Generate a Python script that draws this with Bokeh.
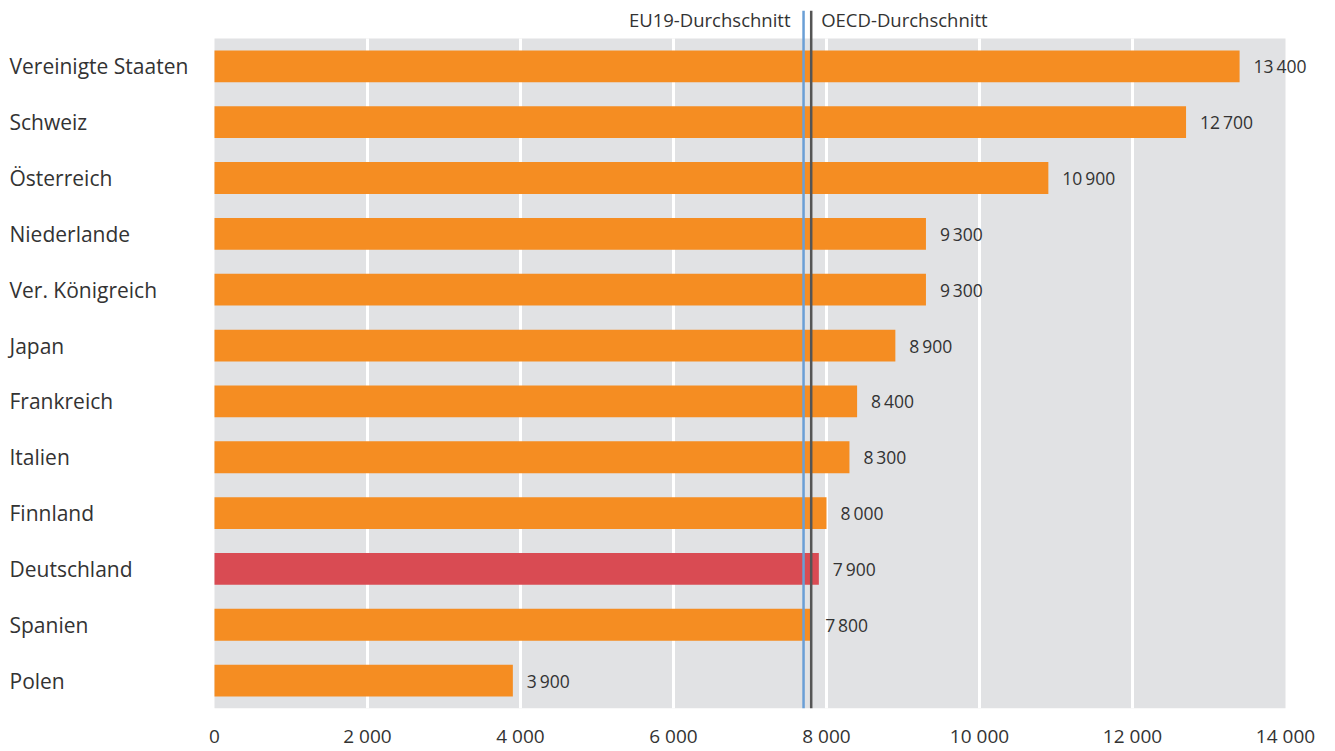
from bokeh.plotting import figure
from bokeh.models import Range1d, FixedTicker, ColumnDataSource
from bokeh.core.properties import value
from bokeh.embed import file_html
from bokeh.resources import INLINE

countries = ["Vereinigte Staaten", "Schweiz", "Österreich", "Niederlande", "Ver. Königreich",
             "Japan", "Frankreich", "Italien", "Finnland", "Deutschland", "Spanien", "Polen"]
values = [13400, 12700, 10900, 9300, 9300, 8900, 8400, 8300, 8000, 7900, 7800, 3900]
highlight = "Deutschland"
eu19_avg = 7700
oecd_avg = 7800
ticks = [0, 2000, 4000, 6000, 8000, 10000, 12000, 14000]
tick_labels = ["0", "2 000", "4 000", "6 000", "8 000", "10 000", "12 000", "14 000"]

FONT = "Open Sans"
ORANGE = "#F58D22"
RED = "#D94B53"
GRAY_BG = "#E1E2E4"
TEXT = "#333333"

W, H = 1330, 751
LEFT, PANEL_RIGHT = 214, 1285
TOP = 10

n = len(countries)
ypos = [n - 1 - i for i in range(n)]
colors = [RED if c == highlight else ORANGE for c in countries]
val_text = ["{:,}".format(v).replace(",", "\u2009") for v in values]

src = ColumnDataSource(dict(y=ypos, v=values, c=colors, t=val_text, name=countries))

px_per_unit = (PANEL_RIGHT - LEFT) / (ticks[-1] - ticks[0])
x_start = ticks[0] - LEFT / px_per_unit
x_end = ticks[0] + (W - LEFT) / px_per_unit

p = figure(width=W, height=H, output_backend="svg", toolbar_location=None,
           x_range=Range1d(x_start, x_end), y_range=Range1d(-0.5, n),
           min_border_left=0, min_border_right=0, min_border_top=TOP,
           min_border_bottom=0)
p.outline_line_color = None
p.background_fill_color = "white"
p.border_fill_color = "white"
p.xgrid.visible = False
p.ygrid.visible = False
p.yaxis.visible = False

# gray plotting panel
p.quad(left=[ticks[0]], right=[ticks[-1]], bottom=[-0.5], top=[n - 0.5],
       fill_color=GRAY_BG, line_color=None)
# white gridlines
inner = ticks[1:-1]
p.segment(x0=inner, x1=inner, y0=[-0.5] * len(inner), y1=[n - 0.5] * len(inner),
          line_color="white", line_width=3)

p.hbar(y="y", right="v", left=0, height=0.57, fill_color="c", line_color=None, source=src)
p.text(x="v", y="y", text="t", x_offset=14, text_align="left", text_baseline="middle",
       text_font=value(FONT), text_font_size="17.5px", text_color=TEXT, source=src)

# category labels at the left edge of the canvas
p.text(x=[x_start] * n, y=ypos, text=countries, x_offset=9, text_align="left",
       text_baseline="middle", text_font=value(FONT), text_font_size="21px",
       text_color=TEXT)

# average lines, from the panel bottom to the top of the frame
p.segment(x0=[eu19_avg], x1=[eu19_avg], y0=[-0.5], y1=[n], line_color="#6A9FD6", line_width=2.5)
p.segment(x0=[oecd_avg], x1=[oecd_avg], y0=[-0.5], y1=[n], line_color="#555555", line_width=2.5)

p.text(x=[eu19_avg], y=[n - 0.16], text=["EU19-Durchschnitt"], x_offset=-13,
       text_align="right", text_baseline="middle", text_font=value(FONT),
       text_font_size="18.5px", text_color=TEXT)
p.text(x=[oecd_avg], y=[n - 0.16], text=["OECD-Durchschnitt"], x_offset=10,
       text_align="left", text_baseline="middle", text_font=value(FONT),
       text_font_size="18.5px", text_color=TEXT)

p.xaxis.ticker = FixedTicker(ticks=ticks)
p.xaxis.major_label_overrides = {t: l for t, l in zip(ticks, tick_labels)}
p.xaxis.axis_line_color = None
p.xaxis.major_tick_line_color = None
p.xaxis.major_tick_out = 0
p.xaxis.major_tick_in = 0
p.xaxis.minor_tick_line_color = None
p.xaxis.major_label_standoff = 14
p.xaxis.major_label_text_font = FONT
p.xaxis.major_label_text_font_size = "19px"
p.xaxis.major_label_text_color = TEXT

open("out.html", "w").write(file_html(p, INLINE))
